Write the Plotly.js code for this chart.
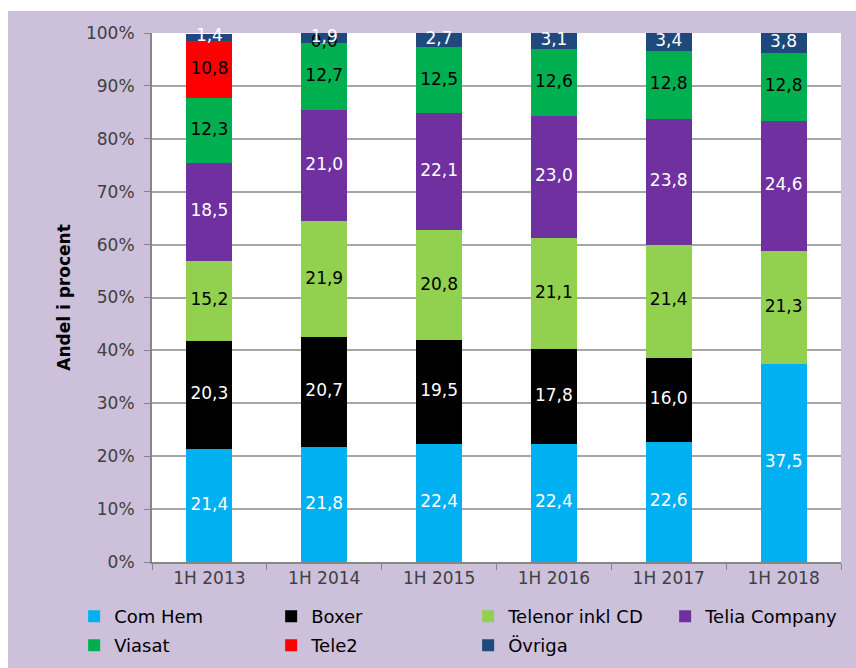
<!DOCTYPE html>
<html>
<head>
<meta charset="utf-8">
<script src="https://cdn.plot.ly/plotly-3.0.1.min.js"></script>
<style>
  body { margin: 0; padding: 0; }
  #myDiv { width: 856px; height: 668px; }
</style>
</head>
<body>
<div id="myDiv"></div>
<script>
var years = ['1H 2013', '1H 2014', '1H 2015', '1H 2016', '1H 2017', '1H 2018'];

var comHem  = [21.4, 21.8, 22.4, 22.4, 22.6, 37.5];
var boxer   = [20.3, 20.7, 19.5, 17.8, 16.0, null];
var telenor = [15.2, 21.9, 20.8, 21.1, 21.4, 21.3];
var telia   = [18.5, 21.0, 22.1, 23.0, 23.8, 24.6];
var viasat  = [12.3, 12.7, 12.5, 12.6, 12.8, 12.8];
var tele2   = [10.8, 0.0, null, null, null, null];
var ovriga  = [1.4, 1.9, 2.7, 3.1, 3.4, 3.8];

var yTicks = [0, 10, 20, 30, 40, 50, 60, 70, 80, 90, 100];
var yTickText = yTicks.map(function (t) { return t + '%'; });

var series = [
  { name: 'Com Hem', y: comHem, color: '#00B0F0', label: '#FFFFFF', legend: 'legend' },
  { name: 'Boxer', y: boxer, color: '#000000', label: '#FFFFFF', legend: 'legend' },
  { name: 'Telenor inkl CD', y: telenor, color: '#92D050', label: '#000000', legend: 'legend' },
  { name: 'Telia Company', y: telia, color: '#7030A0', label: '#FFFFFF', legend: 'legend' },
  { name: 'Viasat', y: viasat, color: '#00B050', label: '#000000', legend: 'legend2' },
  { name: 'Tele2', y: tele2, color: '#FF0000', label: '#000000', legend: 'legend2' },
  { name: 'Övriga', y: ovriga, color: '#1F497D', label: '#FFFFFF', legend: 'legend2' }
];

var font = 'DejaVu Sans, Verdana, sans-serif';
var data = [];
var labels = [];
var base = years.map(function () { return 0; });

series.forEach(function (s) {
  data.push({
    x: years,
    y: s.y,
    name: s.name,
    type: 'bar',
    legend: s.legend,
    marker: { color: s.color },
    hoverinfo: 'name+y'
  });
  var lx = [], ly = [], lt = [];
  s.y.forEach(function (v, i) {
    if (v === null) return;
    lx.push(years[i]);
    ly.push(base[i] + v / 2);
    lt.push(v.toFixed(1).replace('.', ','));
    base[i] += v;
  });
  labels.push({
    x: lx,
    y: ly,
    text: lt,
    type: 'scatter',
    mode: 'text',
    textfont: { family: font, size: 17, color: s.label },
    showlegend: false,
    hoverinfo: 'skip',
    cliponaxis: false
  });
});

data = data.concat(labels);

var legendStyle = function (y) {
  return {
    orientation: 'h',
    x: -0.113,
    xanchor: 'left',
    y: y,
    yanchor: 'top',
    entrywidth: 152,
    traceorder: 'normal',
    font: { family: font, size: 18, color: '#000000' },
    bgcolor: 'rgba(0,0,0,0)'
  };
};

var layout = {
  width: 856,
  height: 668,
  barmode: 'stack',
  bargap: 0.6,
  paper_bgcolor: '#CCC0DA',
  plot_bgcolor: '#FFFFFF',
  margin: { l: 152, r: 15, t: 33, b: 106, autoexpand: false },
  font: { family: font, size: 17, color: '#404040' },
  xaxis: {
    type: 'category',
    ticks: 'outside',
    tickson: 'boundaries',
    ticklen: 6,
    tickcolor: '#868686',
    showline: true,
    linecolor: '#868686',
    linewidth: 2,
    tickfont: { family: font, size: 17, color: '#404040' },
    fixedrange: true
  },
  yaxis: {
    range: [0, 100],
    tickmode: 'array',
    tickvals: yTicks,
    ticktext: yTickText,
    ticks: 'outside',
    ticklen: 6,
    tickcolor: '#868686',
    ticklabelstandoff: 6,
    showline: true,
    linecolor: '#868686',
    linewidth: 2,
    gridcolor: '#A6A6A6',
    gridwidth: 2,
    zeroline: false,
    tickfont: { family: font, size: 17, color: '#404040' },
    title: {
      text: '<b>Andel i procent</b>',
      font: { family: font, size: 17, color: '#000000' },
      standoff: 11
    },
    fixedrange: true
  },
  legend: legendStyle(-0.068),
  legend2: legendStyle(-0.123),
  shapes: [
    { type: 'rect', xref: 'paper', yref: 'paper', x0: -0.25, x1: -0.2090, y0: -0.3, y1: 1.1, fillcolor: '#FFFFFF', line: { width: 0 }, layer: 'below' },
    { type: 'rect', xref: 'paper', yref: 'paper', x0: -0.25, x1: 1.05, y0: 1.0416, y1: 1.1, fillcolor: '#FFFFFF', line: { width: 0 }, layer: 'below' }
  ]
};

Plotly.newPlot('myDiv', data, layout, { displayModeBar: false, staticPlot: true });
</script>
</body>
</html>
